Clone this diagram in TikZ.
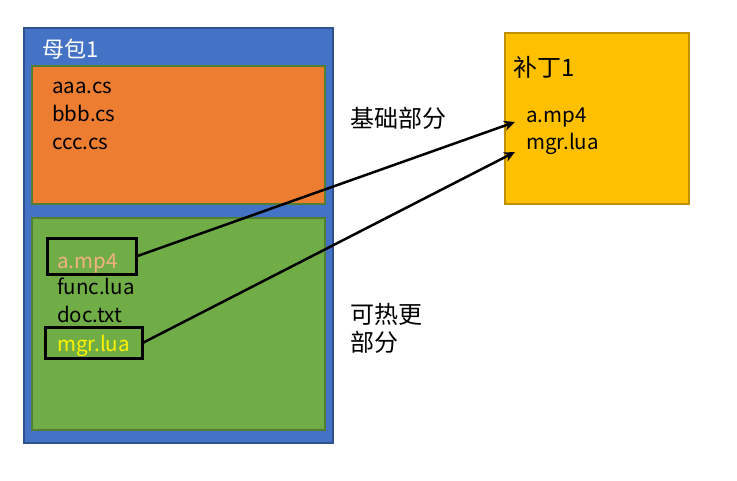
\documentclass[tikz,border=0pt]{standalone}
\usepackage{fontspec}
\setmainfont{Noto Sans CJK SC}
\usetikzlibrary{arrows.meta}
\definecolor{bluebg}{HTML}{4472C4}
\definecolor{blueln}{HTML}{2F528F}
\definecolor{orangebg}{HTML}{ED7D31}
\definecolor{greenbg}{HTML}{70AD47}
\definecolor{greenln}{HTML}{507E32}
\definecolor{goldbg}{HTML}{FFC000}
\definecolor{goldln}{HTML}{BF9000}
\definecolor{salmon}{HTML}{F4B183}
\tikzset{
  panel/.style={draw, line width=1.2pt},
  txt/.style={anchor=base west, inner sep=0pt, font=\fontsize{20.5}{24}\selectfont},
  cjk/.style={anchor=base west, inner sep=0pt, font=\fontsize{24}{28}\selectfont},
  filebox/.style={draw=black, line width=3pt},
  link/.style={line width=2.5pt, -{Stealth[length=11pt,width=10pt]}}
}
\begin{document}
\begin{tikzpicture}[x=1pt,y=-1pt]
\useasboundingbox (0,0) rectangle (737,480);
% mother package
\path[panel, fill=bluebg, draw=blueln] (24,28) rectangle (333,443);
\node[anchor=base west, inner sep=0pt, font=\fontsize{22}{26}\selectfont, text=white] (title) at (42,57) {母包1};
\path[panel, fill=orangebg, draw=greenln] (32,66) rectangle (325,204);
\node[txt] (aaa) at (52,93) {aaa.cs};
\node[txt] (bbb) at (52,121) {bbb.cs};
\node[txt] (ccc) at (52,149) {ccc.cs};
\path[panel, fill=greenbg, draw=greenln] (32,218) rectangle (325,430);
\node[filebox, minimum width=89pt, minimum height=36pt] (box1) at (91.5,256) {};
\node[txt, text=salmon] (amp4) at (57,268) {a.mp4};
\node[txt] (func) at (57,294) {func.lua};
\node[txt] (doc) at (57,322) {doc.txt};
\node[filebox, minimum width=97pt, minimum height=31pt] (box2) at (93.5,342.5) {};
\node[txt, text=yellow] (mgr) at (57,351) {mgr.lua};
% patch
\path[panel, fill=goldbg, draw=goldln] (505,33) rectangle (689,204);
\node[cjk] (patch) at (513,76) {补丁1};
\node[txt] (pa) at (526,122) {a.mp4};
\node[txt] (pm) at (526,149) {mgr.lua};
% labels
\node[cjk] (base) at (350,127) {基础部分};
\node[cjk] (hot1) at (350,323) {可热更};
\node[cjk] (hot2) at (350,351) {部分};
% arrows
\coordinate (t1) at (515,122);
\coordinate (t2) at (515,152);
\draw[link] (box1.east) -- (t1);
\draw[link] (box2.east) -- (t2);
\end{tikzpicture}
\end{document}
